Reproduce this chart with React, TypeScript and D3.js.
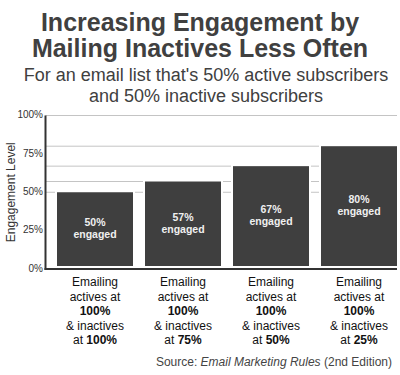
import React from "react";
import * as d3 from "d3";

const titleLines = ["Increasing Engagement by", "Mailing Inactives Less Often"];
const subtitleLines = ["For an email list that's 50% active subscribers", "and 50% inactive subscribers"];
const values = [50, 57, 67, 80];
const activeRates = ["100%", "100%", "100%", "100%"];
const inactiveRates = ["100%", "75%", "50%", "25%"];
const yTicks = [0, 25, 50, 75, 100];
const yLabel = "Engagement Level";

const W = 400;
const H = 375;
const FONT = "'Liberation Sans', Arial, Helvetica, sans-serif";

export default function App() {
  const plotLeft = 45.5;
  const plotRight = 397;
  const y = d3.scaleLinear().domain([0, 100]).range([269, 115.5]);
  const x = d3
    .scaleBand<number>()
    .domain(values.map((_, i) => i))
    .range([57, 397])
    .paddingInner(12 / 88)
    .paddingOuter(0);
  const gridVals = [100, ...values];
  const bw = x.bandwidth();

  return (
    <svg
      width={W}
      height={H}
      style={{ position: "absolute", left: 0, top: 0, background: "#fff" }}
      fontFamily={FONT}
    >
      <rect width={W} height={H} fill="#fff" />
      {titleLines.map((t, i) => (
        <text key={t} x={200} y={31 + i * 25.5} textAnchor="middle" fontSize={25} fontWeight="bold" fill="#404040">
          {t}
        </text>
      ))}
      {subtitleLines.map((t, i) => (
        <text key={t} x={206} y={81 + i * 21} textAnchor="middle" fontSize={18} fill="#404040">
          {t}
        </text>
      ))}

      {gridVals.map((v, i) => (
        <line key={"g" + i} x1={plotLeft} x2={plotRight} y1={y(v)} y2={y(v)} stroke="#c4c4c4" strokeWidth={1} />
      ))}

      {values.map((v, i) => {
        const bx = x(i)!;
        const top = y(v);
        const bottom = y(0) - 3;
        const cy = (top + bottom) / 2;
        return (
          <g key={"b" + i}>
            <rect
              x={bx}
              y={top}
              width={bw}
              height={bottom - top}
              fill="#3f3f3f"
              stroke="#fff"
              strokeWidth={4}
              style={{ paintOrder: "stroke" }}
            />
            <text x={bx + bw / 2} y={cy - 6} textAnchor="middle" dominantBaseline="middle" fontSize={10.5} fontWeight="bold" fill="#f0f0f0">
              {v}%
            </text>
            <text x={bx + bw / 2} y={cy + 6.5} textAnchor="middle" dominantBaseline="middle" fontSize={10.5} fontWeight="bold" fill="#f0f0f0">
              engaged
            </text>
          </g>
        );
      })}

      <line x1={plotLeft} x2={plotLeft} y1={y(100)} y2={y(0) + 1} stroke="#333" strokeWidth={2} />
      <line x1={plotLeft - 1} x2={plotRight} y1={y(0)} y2={y(0)} stroke="#333" strokeWidth={2} />

      {yTicks.map((t) => (
        <text key={"t" + t} x={43} y={y(t)} textAnchor="end" dominantBaseline="middle" fontSize={10} fill="#333">
          {t}%
        </text>
      ))}

      <text
        transform={`translate(15,${(y(0) + y(100)) / 2}) rotate(-90)`}
        textAnchor="middle"
        fontSize={12}
        fill="#333"
      >
        {yLabel}
      </text>

      {values.map((_, i) => {
        const cx = x(i)! + bw / 2;
        const base = 286;
        const lh = 14.5;
        return (
          <text key={"c" + i} x={cx} textAnchor="middle" fontSize={12} fill="#111">
            <tspan x={cx} y={base}>Emailing</tspan>
            <tspan x={cx} y={base + lh}>actives at</tspan>
            <tspan x={cx} y={base + 2 * lh} fontWeight="bold">{activeRates[i]}</tspan>
            <tspan x={cx} y={base + 3 * lh}>&amp; inactives</tspan>
            <tspan x={cx} y={base + 4 * lh}>
              at <tspan fontWeight="bold">{inactiveRates[i]}</tspan>
            </tspan>
          </text>
        );
      })}

      <text x={392} y={366} textAnchor="end" fontSize={12} fill="#444">
        Source: <tspan fontStyle="italic">Email Marketing Rules</tspan> (2nd Edition)
      </text>
    </svg>
  );
}
